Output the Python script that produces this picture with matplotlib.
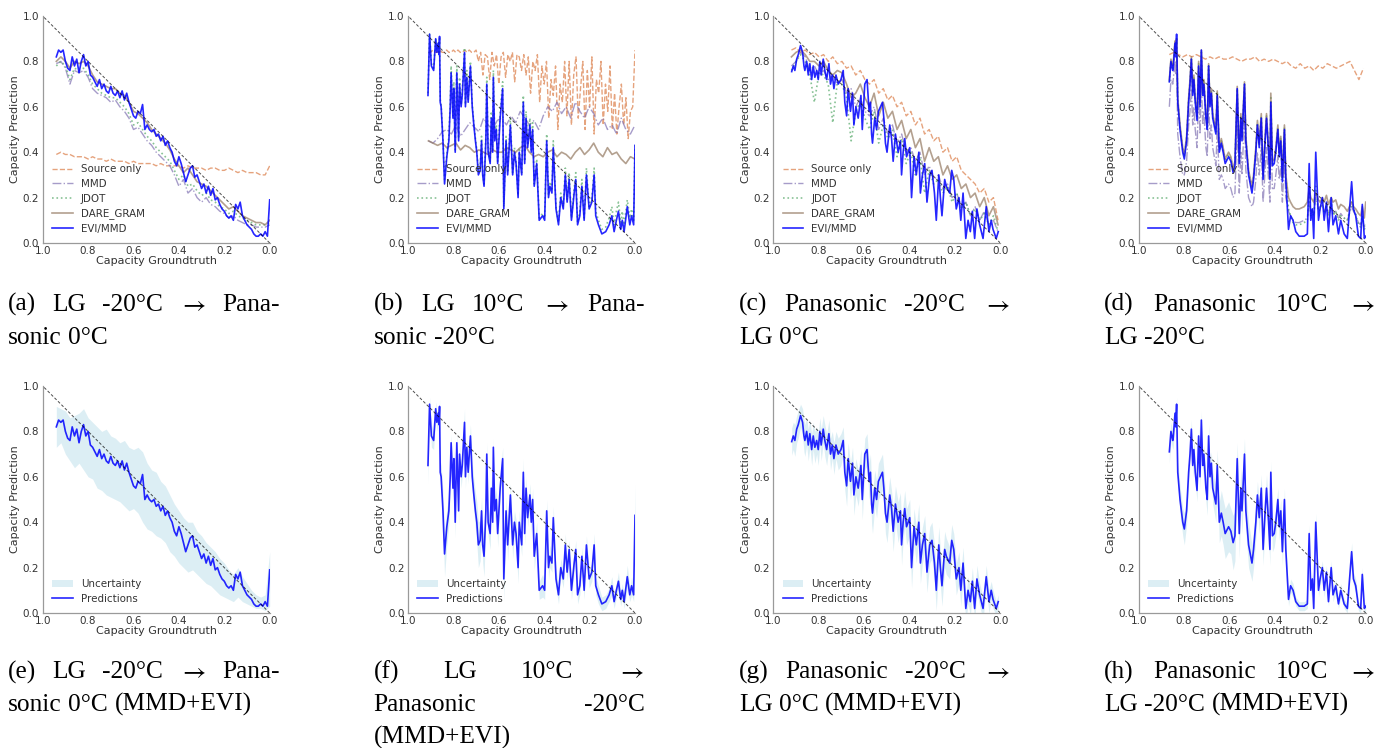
import numpy as np
import matplotlib
matplotlib.use("Agg")
import matplotlib.pyplot as plt

# ---------------- data ----------------
# Panel (a)/(e): LG -20C -> Panasonic 0C
evi_a = [0.82, 0.85, 0.84, 0.85, 0.80, 0.77, 0.76, 0.82, 0.78, 0.81,
         0.75, 0.80, 0.83, 0.78, 0.80, 0.74, 0.73, 0.71, 0.69, 0.72,
         0.68, 0.70, 0.67, 0.66, 0.69, 0.66, 0.65, 0.67, 0.64, 0.67,
         0.63, 0.66, 0.62, 0.59, 0.56, 0.55, 0.58, 0.57, 0.61, 0.50,
         0.52, 0.50, 0.49, 0.50, 0.47, 0.48, 0.45, 0.47, 0.43, 0.45,
         0.42, 0.40, 0.36, 0.34, 0.38, 0.35, 0.31, 0.27, 0.30, 0.33,
         0.34, 0.29, 0.30, 0.27, 0.24, 0.26, 0.22, 0.25, 0.21, 0.24,
         0.19, 0.20, 0.17, 0.15, 0.14, 0.12, 0.11, 0.12, 0.10, 0.17,
         0.15, 0.18, 0.12, 0.10, 0.08, 0.07, 0.06, 0.04, 0.03, 0.03,
         0.04, 0.03, 0.05, 0.03, 0.19]
src_a = [0.39, 0.40, 0.39, 0.39, 0.38, 0.38, 0.38, 0.37, 0.38, 0.37, 0.37, 0.36,
         0.37, 0.36, 0.36, 0.36, 0.35, 0.36, 0.35, 0.35, 0.35, 0.35, 0.34, 0.35,
         0.34, 0.34, 0.34, 0.34, 0.33, 0.34, 0.33, 0.33, 0.33, 0.32, 0.33, 0.33,
         0.32, 0.32, 0.33, 0.32, 0.31, 0.32, 0.31, 0.31, 0.31, 0.30, 0.30, 0.34]
mmd_a = [0.79, 0.80, 0.77, 0.70, 0.76, 0.75, 0.76, 0.73, 0.68, 0.66, 0.65, 0.64,
         0.62, 0.63, 0.60, 0.58, 0.55, 0.50, 0.51, 0.48, 0.45, 0.43, 0.40, 0.38,
         0.36, 0.34, 0.30, 0.25, 0.28, 0.22, 0.24, 0.20, 0.18, 0.20, 0.17, 0.16,
         0.14, 0.13, 0.11, 0.12, 0.10, 0.09, 0.08, 0.08, 0.07, 0.07, 0.07, 0.08]
jdot_a = [0.78, 0.80, 0.78, 0.72, 0.77, 0.76, 0.77, 0.74, 0.70, 0.68, 0.66, 0.65,
          0.64, 0.64, 0.62, 0.60, 0.57, 0.52, 0.53, 0.50, 0.47, 0.45, 0.42, 0.40,
          0.38, 0.36, 0.32, 0.28, 0.30, 0.25, 0.26, 0.23, 0.21, 0.22, 0.19, 0.18,
          0.16, 0.15, 0.13, 0.14, 0.12, 0.11, 0.10, 0.09, 0.08, 0.08, 0.08, 0.09]
dare_a = [0.80, 0.82, 0.80, 0.77, 0.80, 0.79, 0.80, 0.78, 0.74, 0.71, 0.70, 0.69,
          0.68, 0.68, 0.66, 0.65, 0.62, 0.58, 0.57, 0.55, 0.53, 0.50, 0.48, 0.46,
          0.44, 0.41, 0.37, 0.34, 0.31, 0.33, 0.30, 0.27, 0.26, 0.25, 0.23, 0.21,
          0.19, 0.17, 0.15, 0.16, 0.14, 0.12, 0.11, 0.10, 0.09, 0.09, 0.08, 0.10]
unc_hi_e = [0.91, 0.90, 0.89, 0.86, 0.87, 0.88, 0.90, 0.86, 0.84, 0.82, 0.80, 0.81,
            0.78, 0.77, 0.75, 0.76, 0.73, 0.72, 0.73, 0.71, 0.66, 0.63, 0.62, 0.58,
            0.56, 0.52, 0.48, 0.45, 0.42, 0.40, 0.40, 0.36, 0.34, 0.31, 0.29, 0.27,
            0.24, 0.22, 0.19, 0.17, 0.20, 0.16, 0.13, 0.10, 0.08, 0.07, 0.08, 0.27]
unc_lo_e = [0.73, 0.75, 0.70, 0.67, 0.64, 0.66, 0.63, 0.60, 0.59, 0.55, 0.54, 0.52,
            0.51, 0.50, 0.49, 0.47, 0.45, 0.46, 0.44, 0.40, 0.37, 0.36, 0.34, 0.33,
            0.31, 0.27, 0.25, 0.22, 0.20, 0.18, 0.19, 0.17, 0.15, 0.13, 0.12, 0.10,
            0.08, 0.07, 0.06, 0.05, 0.07, 0.05, 0.04, 0.03, 0.02, 0.02, 0.01, 0.03]

# Panel (b)/(f): LG 10C -> Panasonic -20C
gt_b = [0.912, 0.905, 0.897, 0.887, 0.878, 0.873, 0.867, 0.864, 0.861, 0.858,
        0.854, 0.846, 0.839, 0.829, 0.820, 0.814, 0.810, 0.802, 0.798, 0.792,
        0.785, 0.777, 0.773, 0.766, 0.761, 0.751, 0.747, 0.741, 0.735, 0.725,
        0.717, 0.710, 0.703, 0.697, 0.690, 0.682, 0.676, 0.671, 0.665, 0.657,
        0.653, 0.647, 0.638, 0.633, 0.627, 0.624, 0.618, 0.611, 0.605, 0.594,
        0.583, 0.578, 0.568, 0.561, 0.549, 0.539, 0.531, 0.524, 0.515, 0.510,
        0.499, 0.492, 0.486, 0.480, 0.473, 0.463, 0.457, 0.451, 0.444, 0.433,
        0.422, 0.407, 0.398, 0.389, 0.381, 0.375, 0.366, 0.360, 0.348, 0.337,
        0.327, 0.316, 0.307, 0.299, 0.290, 0.280, 0.268, 0.261, 0.253, 0.243,
        0.234, 0.224, 0.214, 0.202, 0.190, 0.180, 0.173, 0.161, 0.146, 0.129,
        0.114, 0.102, 0.092, 0.082, 0.073, 0.063, 0.056, 0.048, 0.034, 0.023,
        0.015, 0.006, 0.000]
evi_b = [0.65, 0.92, 0.78, 0.76, 0.90, 0.84, 0.88, 0.83, 0.91, 0.62,
         0.60, 0.45, 0.26, 0.38, 0.45, 0.60, 0.75, 0.55, 0.68, 0.40,
         0.75, 0.45, 0.70, 0.60, 0.65, 0.84, 0.60, 0.73, 0.62, 0.78,
         0.60, 0.52, 0.45, 0.40, 0.30, 0.32, 0.45, 0.30, 0.25, 0.45,
         0.70, 0.40, 0.35, 0.55, 0.40, 0.73, 0.45, 0.50, 0.35, 0.55,
         0.68, 0.15, 0.45, 0.30, 0.52, 0.30, 0.40, 0.35, 0.20, 0.40,
         0.30, 0.62, 0.35, 0.55, 0.42, 0.52, 0.40, 0.50, 0.25, 0.35,
         0.10, 0.12, 0.10, 0.45, 0.20, 0.25, 0.22, 0.42, 0.15, 0.08,
         0.20, 0.15, 0.30, 0.18, 0.28, 0.10, 0.22, 0.28, 0.08, 0.12,
         0.25, 0.10, 0.30, 0.15, 0.18, 0.30, 0.12, 0.08, 0.04, 0.05,
         0.08, 0.12, 0.05, 0.10, 0.14, 0.06, 0.10, 0.05, 0.16, 0.08,
         0.12, 0.08, 0.43]
jdot_b = [0.66, 0.92, 0.79, 0.77, 0.90, 0.85, 0.88, 0.84, 0.90, 0.63,
          0.61, 0.46, 0.28, 0.39, 0.47, 0.62, 0.78, 0.56, 0.71, 0.41,
          0.78, 0.46, 0.73, 0.61, 0.67, 0.86, 0.61, 0.76, 0.63, 0.80,
          0.61, 0.53, 0.46, 0.41, 0.31, 0.33, 0.47, 0.31, 0.26, 0.47,
          0.73, 0.41, 0.36, 0.58, 0.41, 0.76, 0.46, 0.52, 0.36, 0.58,
          0.71, 0.16, 0.47, 0.31, 0.55, 0.31, 0.42, 0.36, 0.21, 0.42,
          0.31, 0.65, 0.36, 0.58, 0.43, 0.55, 0.41, 0.53, 0.26, 0.37,
          0.11, 0.13, 0.11, 0.48, 0.21, 0.27, 0.23, 0.45, 0.16, 0.09,
          0.22, 0.16, 0.33, 0.19, 0.31, 0.11, 0.24, 0.31, 0.09, 0.14,
          0.28, 0.11, 0.33, 0.16, 0.20, 0.33, 0.14, 0.10, 0.06, 0.07,
          0.11, 0.16, 0.08, 0.14, 0.18, 0.09, 0.14, 0.08, 0.19, 0.11,
          0.15, 0.10, 0.43]
std_b = [0.08, 0.03, 0.05, 0.04, 0.03, 0.04, 0.03, 0.04, 0.03, 0.05,
         0.05, 0.08, 0.10, 0.08, 0.06, 0.05, 0.04, 0.05, 0.04, 0.07,
         0.04, 0.06, 0.04, 0.05, 0.04, 0.06, 0.05, 0.04, 0.05, 0.05,
         0.06, 0.07, 0.08, 0.09, 0.10, 0.09, 0.06, 0.08, 0.09, 0.05,
         0.05, 0.06, 0.07, 0.05, 0.05, 0.04, 0.05, 0.05, 0.06, 0.05,
         0.05, 0.10, 0.06, 0.07, 0.05, 0.06, 0.05, 0.06, 0.07, 0.05,
         0.05, 0.06, 0.05, 0.05, 0.04, 0.05, 0.05, 0.05, 0.06, 0.05,
         0.04, 0.05, 0.04, 0.05, 0.05, 0.05, 0.04, 0.05, 0.04, 0.04,
         0.04, 0.04, 0.05, 0.04, 0.04, 0.04, 0.04, 0.04, 0.04, 0.04,
         0.04, 0.04, 0.04, 0.04, 0.04, 0.05, 0.04, 0.04, 0.03, 0.03,
         0.03, 0.04, 0.03, 0.03, 0.04, 0.03, 0.03, 0.03, 0.05, 0.03,
         0.04, 0.03, 0.14]
src_b = [0.84, 0.84, 0.85, 0.84, 0.84, 0.85, 0.84, 0.84, 0.85, 0.84, 0.84,
         0.85, 0.84, 0.85, 0.84, 0.84, 0.85, 0.84, 0.85, 0.84, 0.84, 0.85,
         0.80, 0.84, 0.74, 0.83, 0.82, 0.72, 0.84, 0.78, 0.83, 0.70,
         0.82, 0.84, 0.73, 0.83, 0.80, 0.84, 0.71, 0.83, 0.82, 0.76,
         0.83, 0.74, 0.82, 0.66, 0.80, 0.76, 0.83, 0.62, 0.78, 0.70,
         0.80, 0.55, 0.72, 0.65, 0.78, 0.50, 0.70, 0.62, 0.80, 0.56,
         0.80, 0.52, 0.74, 0.82, 0.55, 0.68, 0.80, 0.50, 0.76, 0.60,
         0.82, 0.48, 0.72, 0.66, 0.80, 0.52, 0.70, 0.58, 0.78, 0.50,
         0.66, 0.48, 0.60, 0.70, 0.52, 0.64, 0.46, 0.58, 0.60, 0.85]
mmd_b = [0.45, 0.44, 0.46, 0.49, 0.50, 0.48, 0.52, 0.47, 0.50, 0.53, 0.51, 0.49,
         0.55, 0.52, 0.50, 0.54, 0.55, 0.52, 0.56, 0.53, 0.58, 0.55, 0.52, 0.54,
         0.50, 0.56, 0.60, 0.58, 0.62, 0.57, 0.60, 0.55, 0.62, 0.58, 0.55, 0.60,
         0.57, 0.52, 0.55, 0.50, 0.52, 0.48, 0.55, 0.50, 0.48, 0.52]
dare_b = [0.45, 0.44, 0.43, 0.44, 0.42, 0.43, 0.44, 0.41, 0.43, 0.42, 0.40, 0.41,
          0.40, 0.39, 0.41, 0.40, 0.40, 0.42, 0.41, 0.40, 0.42, 0.43, 0.40, 0.38,
          0.39, 0.38, 0.40, 0.41, 0.38, 0.40, 0.39, 0.37, 0.40, 0.42, 0.39, 0.41,
          0.44, 0.40, 0.38, 0.42, 0.39, 0.40, 0.37, 0.35, 0.38, 0.37]

# Panel (c)/(g): Panasonic -20C -> LG 0C
gt_c = [0.919, 0.912, 0.905, 0.897, 0.890, 0.880, 0.871, 0.865, 0.861, 0.853,
        0.846, 0.839, 0.831, 0.824, 0.817, 0.809, 0.802, 0.795, 0.789, 0.780,
        0.773, 0.765, 0.755, 0.748, 0.740, 0.733, 0.724, 0.714, 0.702, 0.692,
        0.685, 0.677, 0.670, 0.660, 0.651, 0.645, 0.636, 0.626, 0.614, 0.608,
        0.597, 0.587, 0.578, 0.572, 0.567, 0.563, 0.553, 0.545, 0.537, 0.528,
        0.519, 0.513, 0.506, 0.499, 0.487, 0.479, 0.472, 0.462, 0.450, 0.440,
        0.435, 0.428, 0.421, 0.413, 0.399, 0.391, 0.380, 0.370, 0.359, 0.352,
        0.343, 0.333, 0.323, 0.311, 0.301, 0.290, 0.282, 0.271, 0.264, 0.257,
        0.245, 0.238, 0.223, 0.214, 0.205, 0.194, 0.182, 0.174, 0.164, 0.152,
        0.142, 0.132, 0.123, 0.113, 0.103, 0.091, 0.076, 0.062, 0.050, 0.040,
        0.032, 0.018, 0.009]
evi_c = [0.755, 0.78, 0.76, 0.81, 0.83, 0.87, 0.84, 0.78, 0.76, 0.80,
         0.74, 0.79, 0.72, 0.78, 0.73, 0.76, 0.72, 0.80, 0.74, 0.81,
         0.76, 0.72, 0.79, 0.70, 0.74, 0.68, 0.74, 0.70, 0.72, 0.76,
         0.62, 0.56, 0.68, 0.58, 0.66, 0.52, 0.60, 0.55, 0.65, 0.50,
         0.70, 0.72, 0.58, 0.62, 0.48, 0.44, 0.55, 0.50, 0.58, 0.60,
         0.62, 0.55, 0.44, 0.40, 0.52, 0.46, 0.36, 0.48, 0.40, 0.45,
         0.30, 0.40, 0.46, 0.38, 0.42, 0.20, 0.38, 0.30, 0.40, 0.22,
         0.30, 0.35, 0.18, 0.30, 0.32, 0.22, 0.10, 0.30, 0.20, 0.12,
         0.28, 0.25, 0.22, 0.32, 0.28, 0.15, 0.20, 0.10, 0.22, 0.02,
         0.10, 0.05, 0.14, 0.02, 0.15, 0.08, 0.02, 0.16, 0.05, 0.10,
         0.06, 0.02, 0.05]
std_c = [0.06, 0.06, 0.07, 0.06, 0.06, 0.05, 0.06, 0.07, 0.07, 0.06,
         0.07, 0.06, 0.07, 0.06, 0.07, 0.06, 0.07, 0.06, 0.07, 0.06,
         0.07, 0.07, 0.06, 0.07, 0.06, 0.07, 0.06, 0.07, 0.07, 0.06,
         0.08, 0.09, 0.07, 0.08, 0.07, 0.09, 0.08, 0.08, 0.07, 0.09,
         0.07, 0.07, 0.08, 0.08, 0.09, 0.09, 0.08, 0.08, 0.08, 0.08,
         0.08, 0.08, 0.09, 0.09, 0.08, 0.08, 0.09, 0.08, 0.09, 0.08,
         0.09, 0.08, 0.08, 0.08, 0.08, 0.09, 0.08, 0.08, 0.08, 0.09,
         0.08, 0.08, 0.09, 0.08, 0.08, 0.08, 0.09, 0.08, 0.08, 0.09,
         0.08, 0.08, 0.07, 0.07, 0.07, 0.07, 0.07, 0.07, 0.07, 0.06,
         0.06, 0.06, 0.06, 0.05, 0.06, 0.05, 0.05, 0.05, 0.05, 0.04,
         0.04, 0.03, 0.03]
src_c = [0.85, 0.86, 0.84, 0.85, 0.83, 0.84, 0.82, 0.83, 0.80, 0.82, 0.79, 0.80,
         0.77, 0.78, 0.74, 0.76, 0.72, 0.70, 0.72, 0.66, 0.68, 0.63, 0.65, 0.60,
         0.62, 0.56, 0.58, 0.52, 0.55, 0.48, 0.50, 0.45, 0.47, 0.40, 0.42, 0.36,
         0.38, 0.32, 0.30, 0.28, 0.26, 0.22, 0.24, 0.18, 0.20, 0.10]
mmd_c = [0.78, 0.80, 0.84, 0.82, 0.76, 0.78, 0.74, 0.76, 0.72, 0.74, 0.70, 0.72,
         0.66, 0.68, 0.60, 0.64, 0.58, 0.56, 0.60, 0.50, 0.55, 0.48, 0.52, 0.44,
         0.48, 0.40, 0.42, 0.36, 0.40, 0.30, 0.34, 0.28, 0.30, 0.24, 0.26, 0.20,
         0.22, 0.16, 0.18, 0.12, 0.16, 0.10, 0.14, 0.08, 0.10, 0.05]
jdot_c = [0.76, 0.80, 0.83, 0.80, 0.74, 0.62, 0.75, 0.74, 0.70, 0.53, 0.71, 0.70,
          0.64, 0.45, 0.58, 0.62, 0.55, 0.50, 0.58, 0.44, 0.52, 0.46, 0.50, 0.38,
          0.46, 0.35, 0.40, 0.30, 0.38, 0.22, 0.32, 0.26, 0.28, 0.22, 0.25, 0.18,
          0.22, 0.15, 0.18, 0.12, 0.15, 0.10, 0.13, 0.08, 0.12, 0.05]
dare_c = [0.82, 0.84, 0.85, 0.83, 0.80, 0.80, 0.78, 0.80, 0.76, 0.74, 0.76, 0.75,
          0.70, 0.64, 0.66, 0.70, 0.64, 0.60, 0.66, 0.56, 0.62, 0.55, 0.58, 0.50,
          0.54, 0.46, 0.50, 0.42, 0.46, 0.36, 0.42, 0.36, 0.38, 0.30, 0.34, 0.28,
          0.30, 0.24, 0.26, 0.20, 0.22, 0.16, 0.20, 0.12, 0.16, 0.08]

# Panel (d)/(h): Panasonic 10C -> LG -20C
gt_d = [0.865, 0.858, 0.850, 0.848, 0.840, 0.837, 0.833, 0.828, 0.818, 0.806,
        0.799, 0.789, 0.780, 0.774, 0.768, 0.762, 0.757, 0.751, 0.743, 0.736,
        0.730, 0.724, 0.718, 0.713, 0.704, 0.698, 0.692, 0.686, 0.680, 0.674,
        0.660, 0.654, 0.645, 0.636, 0.628, 0.619, 0.604, 0.594, 0.584, 0.576,
        0.566, 0.557, 0.550, 0.545, 0.534, 0.528, 0.516, 0.501, 0.494, 0.484,
        0.477, 0.469, 0.460, 0.452, 0.443, 0.437, 0.428, 0.422, 0.418, 0.411,
        0.403, 0.396, 0.387, 0.381, 0.374, 0.367, 0.358, 0.352, 0.340, 0.331,
        0.320, 0.308, 0.293, 0.271, 0.257, 0.249, 0.242, 0.235, 0.229, 0.220,
        0.208, 0.201, 0.191, 0.183, 0.173, 0.164, 0.152, 0.144, 0.132, 0.120,
        0.110, 0.095, 0.081, 0.062, 0.054, 0.044, 0.032, 0.022, 0.015, 0.006,
        0.000]
evi_d = [0.71, 0.80, 0.76, 0.77, 0.88, 0.82, 0.92, 0.62, 0.50, 0.40,
         0.37, 0.45, 0.62, 0.70, 0.81, 0.65, 0.72, 0.62, 0.54, 0.78,
         0.60, 0.85, 0.65, 0.70, 0.55, 0.50, 0.78, 0.60, 0.66, 0.55,
         0.48, 0.65, 0.40, 0.44, 0.40, 0.35, 0.38, 0.36, 0.31, 0.34,
         0.68, 0.35, 0.55, 0.45, 0.70, 0.45, 0.30, 0.22, 0.28, 0.40,
         0.52, 0.42, 0.55, 0.28, 0.45, 0.55, 0.40, 0.28, 0.62, 0.34,
         0.35, 0.40, 0.50, 0.38, 0.45, 0.27, 0.50, 0.28, 0.06, 0.12,
         0.10, 0.05, 0.03, 0.03, 0.04, 0.35, 0.10, 0.15, 0.02, 0.40,
         0.10, 0.15, 0.20, 0.10, 0.18, 0.05, 0.20, 0.08, 0.12, 0.04,
         0.10, 0.04, 0.02, 0.27, 0.15, 0.12, 0.03, 0.02, 0.17, 0.02,
         0.03]
std_d = [0.05, 0.04, 0.04, 0.04, 0.04, 0.04, 0.03, 0.05, 0.06, 0.06,
         0.07, 0.06, 0.05, 0.04, 0.04, 0.05, 0.04, 0.05, 0.05, 0.04,
         0.05, 0.04, 0.05, 0.04, 0.06, 0.07, 0.05, 0.06, 0.05, 0.07,
         0.08, 0.07, 0.09, 0.10, 0.10, 0.11, 0.11, 0.10, 0.12, 0.11,
         0.07, 0.11, 0.09, 0.10, 0.07, 0.09, 0.10, 0.08, 0.08, 0.07,
         0.06, 0.07, 0.06, 0.07, 0.06, 0.06, 0.07, 0.07, 0.05, 0.07,
         0.06, 0.06, 0.05, 0.06, 0.05, 0.06, 0.05, 0.05, 0.03, 0.03,
         0.03, 0.02, 0.02, 0.02, 0.02, 0.04, 0.03, 0.03, 0.02, 0.04,
         0.03, 0.03, 0.03, 0.03, 0.03, 0.02, 0.03, 0.03, 0.03, 0.02,
         0.03, 0.02, 0.02, 0.04, 0.03, 0.03, 0.02, 0.02, 0.03, 0.02,
         0.02]
src_d = [0.83, 0.84, 0.83, 0.82, 0.83, 0.82, 0.83, 0.82, 0.81, 0.82, 0.81, 0.82,
         0.81, 0.81, 0.82, 0.81, 0.80, 0.81, 0.81, 0.82, 0.80, 0.81, 0.80, 0.81,
         0.80, 0.79, 0.80, 0.78, 0.77, 0.79, 0.77, 0.78, 0.76, 0.78, 0.77, 0.79,
         0.78, 0.77, 0.78, 0.79, 0.80, 0.76, 0.72, 0.77]
mmd_d = [0.60, 0.72, 0.70, 0.72, 0.80, 0.74, 0.82, 0.48, 0.38, 0.30,
         0.30, 0.36, 0.52, 0.58, 0.68, 0.52, 0.60, 0.50, 0.42, 0.66,
         0.48, 0.72, 0.52, 0.58, 0.42, 0.38, 0.64, 0.46, 0.52, 0.42,
         0.34, 0.50, 0.28, 0.30, 0.28, 0.24, 0.26, 0.24, 0.20, 0.22,
         0.52, 0.22, 0.40, 0.30, 0.56, 0.32, 0.20, 0.16, 0.18, 0.28,
         0.40, 0.30, 0.42, 0.18, 0.32, 0.42, 0.28, 0.18, 0.50, 0.24,
         0.24, 0.30, 0.38, 0.28, 0.34, 0.18, 0.38, 0.20, 0.14, 0.12,
         0.10, 0.09, 0.09, 0.10, 0.11, 0.18, 0.13, 0.15, 0.13, 0.20,
         0.15, 0.16, 0.17, 0.14, 0.16, 0.13, 0.17, 0.13, 0.14, 0.11,
         0.13, 0.11, 0.10, 0.16, 0.14, 0.12, 0.09, 0.08, 0.11, 0.07,
         0.08]
jdot_d = [0.71, 0.80, 0.77, 0.78, 0.88, 0.83, 0.90, 0.63, 0.51, 0.41,
          0.38, 0.46, 0.63, 0.71, 0.81, 0.66, 0.73, 0.63, 0.55, 0.79,
          0.61, 0.84, 0.66, 0.71, 0.56, 0.51, 0.78, 0.61, 0.67, 0.56,
          0.49, 0.66, 0.41, 0.45, 0.41, 0.36, 0.39, 0.37, 0.32, 0.35,
          0.68, 0.36, 0.56, 0.46, 0.70, 0.46, 0.31, 0.24, 0.29, 0.41,
          0.53, 0.43, 0.56, 0.29, 0.46, 0.56, 0.41, 0.29, 0.64, 0.35,
          0.36, 0.41, 0.51, 0.39, 0.46, 0.28, 0.51, 0.29, 0.15, 0.12,
          0.09, 0.08, 0.08, 0.09, 0.10, 0.22, 0.12, 0.14, 0.12, 0.25,
          0.14, 0.15, 0.18, 0.13, 0.17, 0.12, 0.18, 0.12, 0.14, 0.10,
          0.12, 0.11, 0.10, 0.18, 0.15, 0.13, 0.08, 0.07, 0.12, 0.06,
          0.08]
dare_d = [0.72, 0.81, 0.78, 0.79, 0.89, 0.84, 0.90, 0.64, 0.52, 0.42,
          0.39, 0.47, 0.64, 0.72, 0.82, 0.67, 0.74, 0.64, 0.56, 0.80,
          0.62, 0.85, 0.67, 0.72, 0.57, 0.52, 0.79, 0.62, 0.68, 0.57,
          0.50, 0.67, 0.42, 0.46, 0.42, 0.37, 0.40, 0.38, 0.33, 0.36,
          0.69, 0.37, 0.57, 0.47, 0.71, 0.47, 0.32, 0.25, 0.30, 0.42,
          0.54, 0.44, 0.57, 0.30, 0.47, 0.57, 0.42, 0.30, 0.66, 0.36,
          0.37, 0.42, 0.52, 0.40, 0.47, 0.29, 0.52, 0.30, 0.20, 0.18,
          0.16, 0.15, 0.15, 0.16, 0.18, 0.24, 0.20, 0.19, 0.18, 0.22,
          0.19, 0.18, 0.20, 0.18, 0.21, 0.17, 0.20, 0.18, 0.19, 0.15,
          0.17, 0.16, 0.14, 0.18, 0.16, 0.15, 0.13, 0.12, 0.16, 0.11,
          0.18]

# groundtruth start/end for uniformly sampled series
range_a = (0.94, 0.0)
range_b = (0.91, 0.0)
range_c = (0.92, 0.01)
range_d = (0.865, 0.01)

ARROW = r"$\rightarrow$"
captions_top = [
    [("(a) LG -20°C " + ARROW + " Pana-", True), ("sonic 0°C", False)],
    [("(b) LG 10°C " + ARROW + " Pana-", True), ("sonic -20°C", False)],
    [("(c) Panasonic -20°C " + ARROW, True), ("LG 0°C", False)],
    [("(d) Panasonic 10°C " + ARROW, True), ("LG -20°C", False)],
]
captions_bot = [
    [("(e) LG -20°C " + ARROW + " Pana-", True), ("sonic 0°C (MMD+EVI)", False)],
    [("(f) LG 10°C " + ARROW, True), ("Panasonic -20°C", True), ("(MMD+EVI)", False)],
    [("(g) Panasonic -20°C " + ARROW, True), ("LG 0°C (MMD+EVI)", False)],
    [("(h) Panasonic 10°C " + ARROW, True), ("LG -20°C (MMD+EVI)", False)],
]
ticks = [0.0, 0.2, 0.4, 0.6, 0.8, 1.0]
tick_labels = ["0.0", "0.2", "0.4", "0.6", "0.8", "1.0"]

# ---------------- styling ----------------
W, H = 1390, 748
plt.rcParams['font.family'] = ['DejaVu Sans']
plt.rcParams['mathtext.fontset'] = 'stix'
fig = plt.figure(figsize=(W / 100, H / 100), dpi=100)

C_SRC, C_MMD, C_JDOT, C_DARE, C_EVI = '#dd8452', '#8172b3', '#55a868', '#937860', '#0000ff'
TXT = '#333333'
SPINE = '#9a9a9a'

ax_left_px = [42.7, 408.0, 773.3, 1138.7]
ax_w_px = 227.0
top_row_top, bot_row_top = 16.0, 386.0


def make_ax(col, top_px):
    ax = fig.add_axes([ax_left_px[col] / W, 1 - (top_px + ax_w_px) / H, ax_w_px / W, ax_w_px / H])
    ax.set_xlim(1.0, 0.0)
    ax.set_ylim(0.0, 1.0)
    ax.set_xticks(ticks)
    ax.set_xticklabels(tick_labels)
    ax.set_yticks(ticks)
    ax.set_yticklabels(tick_labels)
    ax.tick_params(length=0, pad=2.5, labelsize=7.5, labelcolor=TXT)
    for s in ['top', 'right']:
        ax.spines[s].set_visible(False)
    for s in ['left', 'bottom']:
        ax.spines[s].set_color(SPINE)
        ax.spines[s].set_linewidth(0.9)
    ax.set_xlabel("Capacity Groundtruth", fontsize=8, color=TXT)
    ax.set_ylabel("Capacity Prediction", fontsize=8, color=TXT)
    ax.xaxis.set_label_coords(0.5, -0.058)
    ax.yaxis.set_label_coords(-0.1, 0.5)
    ax.plot(ticks, ticks, color='black', ls=(0, (3, 2)), lw=0.7, alpha=0.7, zorder=4)
    return ax


def uni(rng, vals):
    return np.linspace(rng[0], rng[1], len(vals))


x_evi_all = [uni(range_a, evi_a), np.array(gt_b), np.array(gt_c), np.array(gt_d)]
evis = [evi_a, evi_b, evi_c, evi_d]
series = [
    # (x_src, src, x_mmd, mmd, x_jdot, jdot, x_dare, dare)
    (uni(range_a, src_a), src_a, uni(range_a, mmd_a), mmd_a,
     uni(range_a, jdot_a), jdot_a, uni(range_a, dare_a), dare_a),
    (uni(range_b, src_b), src_b, uni(range_b, mmd_b), mmd_b,
     np.array(gt_b), jdot_b, uni(range_b, dare_b), dare_b),
    (uni(range_c, src_c), src_c, uni(range_c, mmd_c), mmd_c,
     uni(range_c, jdot_c), jdot_c, uni(range_c, dare_c), dare_c),
    (uni(range_d, src_d), src_d, np.array(gt_d), mmd_d,
     np.array(gt_d), jdot_d, np.array(gt_d), dare_d),
]
stds = [None, std_b, std_c, std_d]

for i in range(4):
    xs, src, xm, mmd, xj, jdot, xd, dare = series[i]
    x_evi, evi = x_evi_all[i], evis[i]
    ax = make_ax(i, top_row_top)
    ax.plot(xs, src, color=C_SRC, ls='--', lw=1.0, alpha=0.75, label='Source only', zorder=2)
    ax.plot(xm, mmd, color=C_MMD, ls='-.', lw=1.0, alpha=0.7, label='MMD', zorder=2)
    ax.plot(xj, jdot, color=C_JDOT, ls=':', lw=1.2, alpha=0.7, label='JDOT', zorder=2)
    ax.plot(xd, dare, color=C_DARE, ls='-', lw=1.2, alpha=0.7, label='DARE_GRAM', zorder=2)
    ax.plot(x_evi, evi, color=C_EVI, lw=1.2, alpha=0.85, label='EVI/MMD', zorder=3)
    leg = ax.legend(loc='lower left', frameon=False, fontsize=7.4, handlelength=2.0,
                    labelspacing=0.45, borderaxespad=0.5)
    for t in leg.get_texts():
        t.set_color(TXT)

    ax2 = make_ax(i, bot_row_top)
    ev = np.array(evi)
    if stds[i] is None:
        xb = uni(range_a, unc_hi_e)
        ax2.fill_between(xb, unc_lo_e, unc_hi_e, color='lightblue', alpha=0.42, lw=0, label='Uncertainty')
    else:
        sd = np.array(stds[i])
        ax2.fill_between(x_evi, ev - sd, ev + sd, color='lightblue', alpha=0.42, lw=0, label='Uncertainty')
    ax2.plot(x_evi, evi, color=C_EVI, lw=1.2, alpha=0.85, label='Predictions', zorder=3)
    leg2 = ax2.legend(loc='lower left', frameon=False, fontsize=7.4, handlelength=2.0,
                      labelspacing=0.45, borderaxespad=0.5)
    for t in leg2.get_texts():
        t.set_color(TXT)

# ---------------- captions (justified like LaTeX) ----------------
CAP_FS = 18.3
CAP_FAM = ['Liberation Serif', 'DejaVu Serif']
renderer = fig.canvas.get_renderer()
cap_left0, cap_step, cap_w = 8.3, 365.3, 271.0
line_h = 32.5


def measure(s):
    t = fig.text(0, 0, s, fontsize=CAP_FS, family=CAP_FAM)
    w = t.get_window_extent(renderer).width
    t.remove()
    return w


space_w = measure("a b") - measure("ab")


def draw_caption(lines, col, base_px):
    x0 = cap_left0 + col * cap_step
    for li, (txt, just) in enumerate(lines):
        words = txt.split(" ")
        widths = [measure(w) for w in words]
        if just and len(words) > 1:
            gap = (cap_w - sum(widths)) / (len(words) - 1)
        else:
            gap = space_w
        x = x0
        y = base_px + li * line_h
        for w, wd in zip(words, widths):
            fig.text(x / W, 1 - y / H, w, fontsize=CAP_FS, family=CAP_FAM,
                     va='baseline', ha='left', color='black')
            x += wd + gap


for col, lines in enumerate(captions_top):
    draw_caption(lines, col, 311.0)
for col, lines in enumerate(captions_bot):
    draw_caption(lines, col, 678.5)

fig.savefig("out.png", dpi=100)
